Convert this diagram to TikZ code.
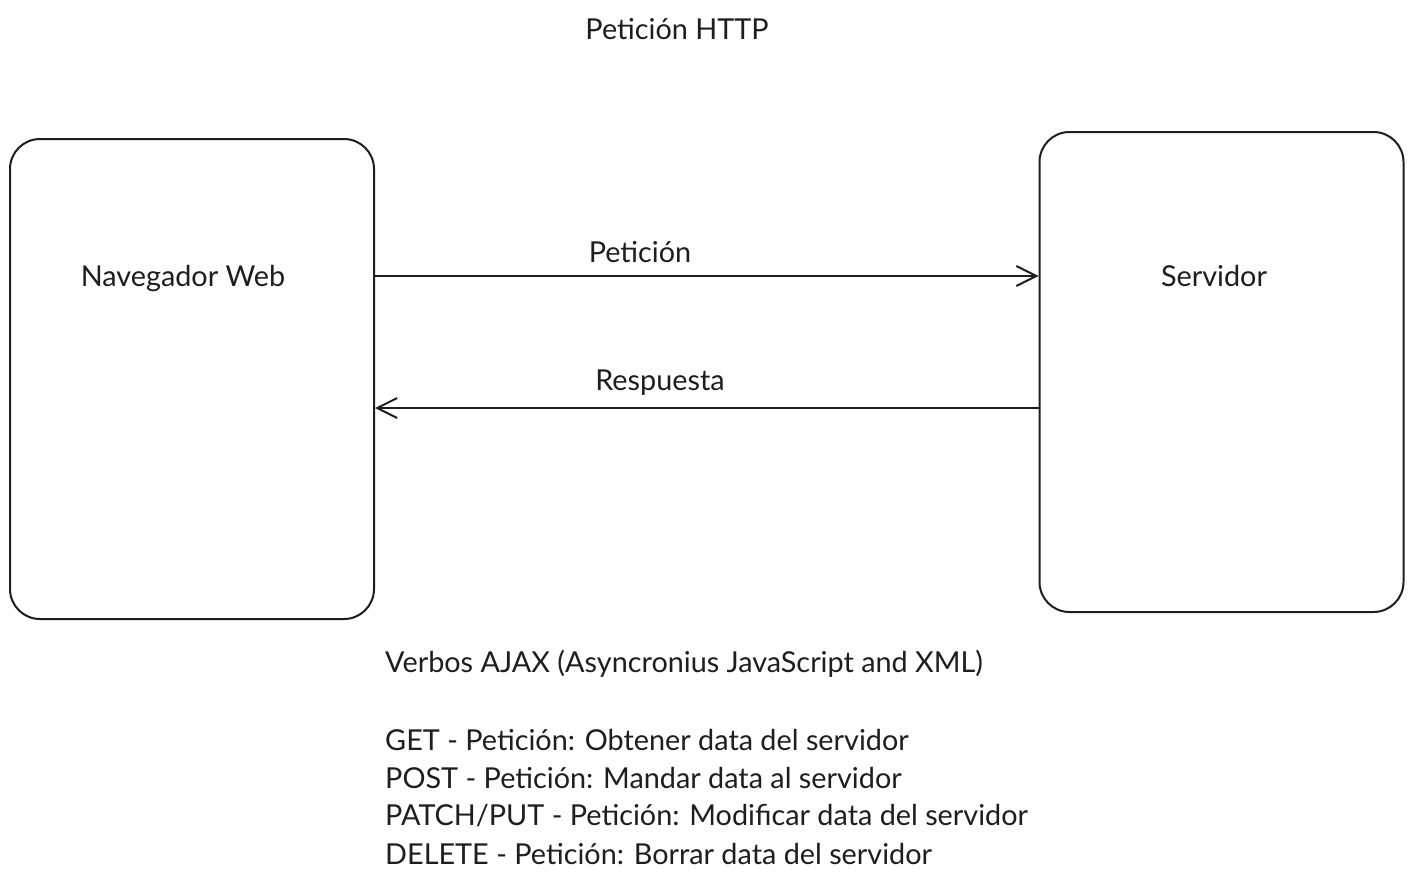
\documentclass[tikz,border=0pt]{standalone}
\usepackage{fontspec}
\setmainfont{Lato}
\usetikzlibrary{arrows.meta}
\definecolor{ink}{HTML}{1E1E1E}
\begin{document}
\begin{tikzpicture}[x=1pt,y=-1pt,
  box/.style={draw=ink,line width=2pt,rounded corners=30pt,minimum width=364pt,minimum height=480pt,inner sep=0pt},
  txt/.style={text=ink,font=\fontsize{28.8}{38}\selectfont,inner sep=0pt},
  conn/.style={draw=ink,line width=2pt,-{Straight Barb[length=20pt,width=20pt,line width=2pt]}}]
\useasboundingbox[fill=white] (0,0) rectangle (1413,881);
\node[box] (nav) at (192,379) {};
\node[box] (srv) at (1221.5,372) {};
\node[txt] (title) at (677,29) {Petición HTTP};
\node[txt] (navl) at (183,279) {Navegador Web};
\node[txt] (srvl) at (1214,276) {Servidor};
\node[txt] (pet) at (640,252) {Petición};
\node[txt] (resp) at (660,383) {Respuesta};
\coordinate (a1s) at (nav.east |- 0,276);
\coordinate (a1e) at (srv.west |- 0,276);
\coordinate (a2s) at (srv.west |- 0,408);
\coordinate (a2e) at (nav.east |- 0,408);
\draw[conn] (a1s) -- (a1e);
\draw[conn] (a2s) -- (a2e);
\node[txt,anchor=west] (verbs) at (385,664) {Verbos AJAX (Asyncronius JavaScript and XML)};
\node[txt,anchor=west] (get) at (385,740) {GET - Petición: Obtener data del servidor};
\node[txt,anchor=west] (post) at (385,778) {POST - Petición: Mandar data al servidor};
\node[txt,anchor=west] (patch) at (385,816) {PATCH/PUT - Petición: Modificar data del servidor};
\node[txt,anchor=west] (del) at (385,854) {DELETE - Petición: Borrar data del servidor};
\end{tikzpicture}
\end{document}
